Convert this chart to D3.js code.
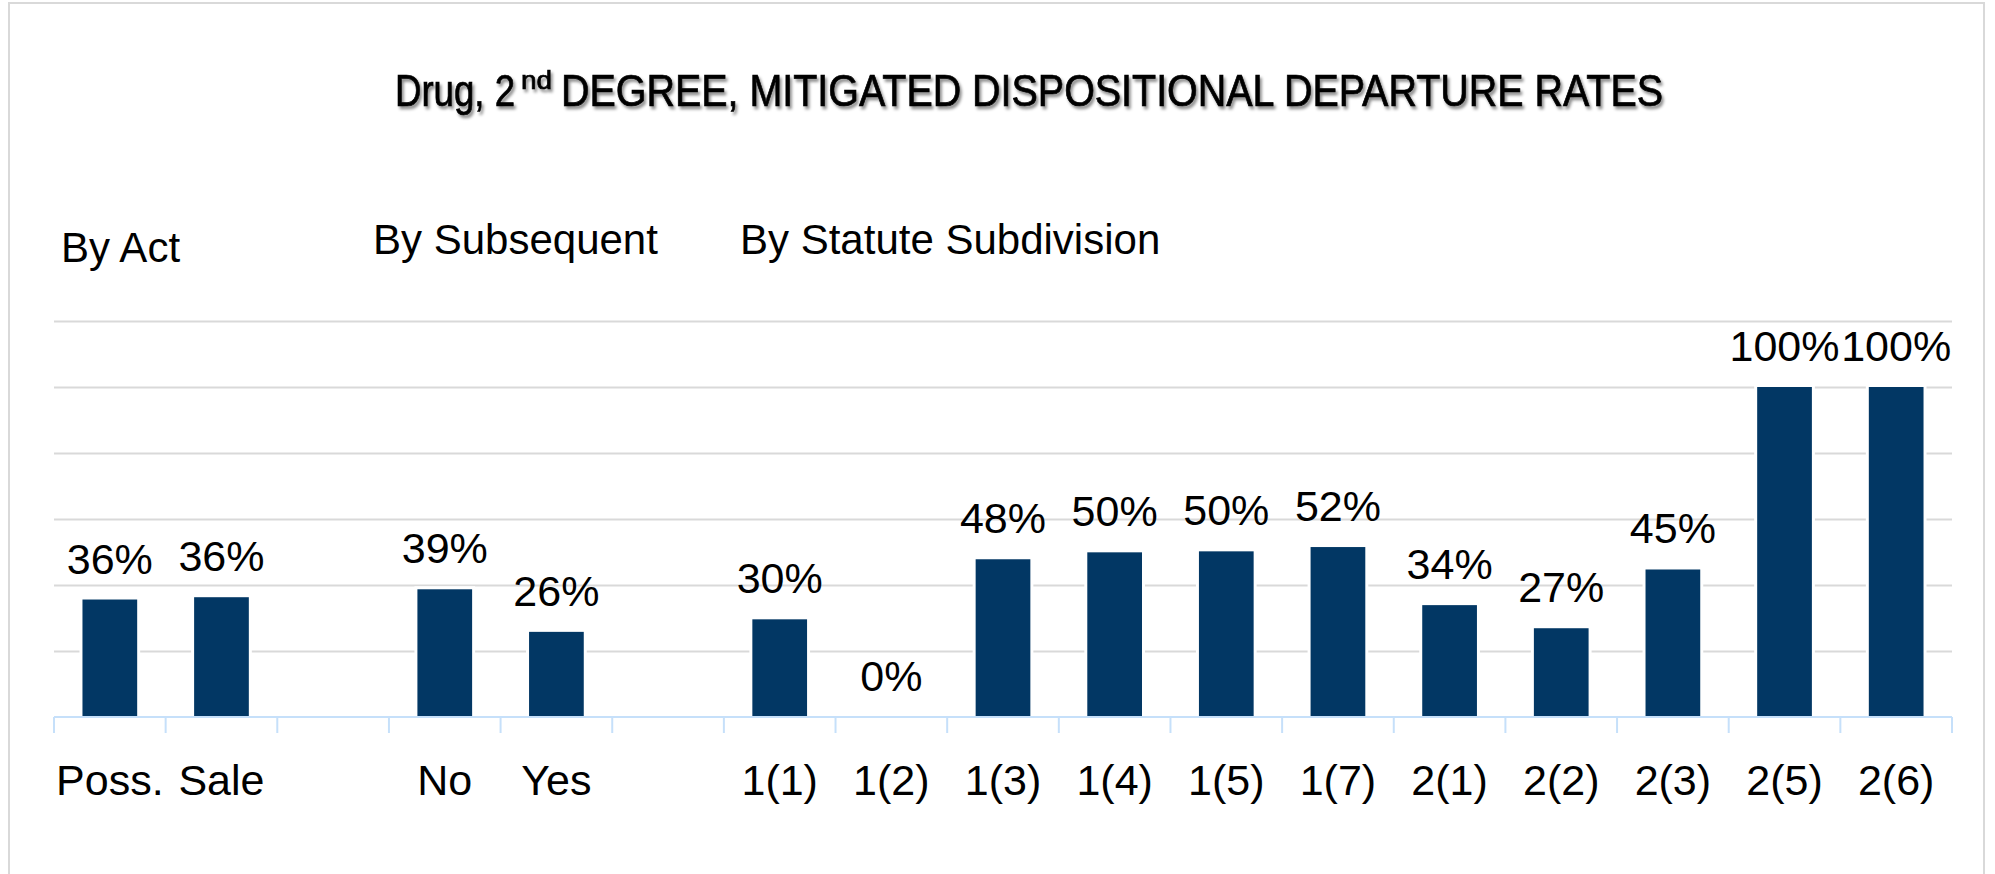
<!DOCTYPE html>
<html>
<head>
<meta charset="utf-8">
<script src="https://cdn.jsdelivr.net/npm/d3@7"></script>
<style>
  body { margin: 0; background: #fff; }
  svg { display: block; }
  text { font-family: "Liberation Sans", Arial, sans-serif; fill: #000; }
</style>
</head>
<body>
<div id="chart-area"></div>
<script>
// DATA
const categories = ['Poss.', 'Sale', '', 'No', 'Yes', '', '1(1)', '1(2)', '1(3)', '1(4)', '1(5)', '1(7)', '2(1)', '2(2)', '2(3)', '2(5)', '2(6)'];
const rates = [0.356, 0.363, null, 0.387, 0.258, null, 0.296, 0, 0.478, 0.499, 0.502, 0.515, 0.339, 0.269, 0.447, 1.0, 1.0];
const groupTitles = ['By Act', 'By Subsequent', 'By Statute Subdivision'];
const gridTicks = [0.2, 0.4, 0.6, 0.8, 1.0, 1.2];

const W = 1995, H = 874;
const margin = { top: 321, right: 43, bottom: 157, left: 54 };
const width = W - margin.left - margin.right;
const height = H - margin.top - margin.bottom;

const svg = d3.select('#chart-area').append('svg')
  .attr('width', W)
  .attr('height', H);

// drop shadow for the title
const defs = svg.append('defs');
defs.append('filter')
  .attr('id', 'shadow')
  .attr('x', '-5%').attr('y', '-30%').attr('width', '110%').attr('height', '160%')
  .append('feDropShadow')
  .attr('dx', 2).attr('dy', 3)
  .attr('stdDeviation', 1.6)
  .attr('flood-color', '#000')
  .attr('flood-opacity', 0.45);

// outer frame
svg.append('rect')
  .attr('x', 9).attr('y', 3)
  .attr('width', 1975).attr('height', 880)
  .attr('fill', 'none')
  .attr('stroke', '#d9d9d9')
  .attr('stroke-width', 2);

// title, in three parts (superscript "nd")
const title = svg.append('g')
  .attr('filter', 'url(#shadow)')
  .attr('stroke', '#000')
  .attr('stroke-width', 0.7);
title.append('text')
  .attr('x', 395).attr('y', 106)
  .attr('font-size', 44)
  .attr('textLength', 120).attr('lengthAdjust', 'spacingAndGlyphs')
  .text('Drug, 2');
title.append('text')
  .attr('x', 521).attr('y', 89)
  .attr('font-size', 25)
  .attr('textLength', 31).attr('lengthAdjust', 'spacingAndGlyphs')
  .text('nd');
title.append('text')
  .attr('x', 561).attr('y', 106)
  .attr('font-size', 44)
  .attr('textLength', 1102).attr('lengthAdjust', 'spacingAndGlyphs')
  .text('DEGREE, MITIGATED DISPOSITIONAL DEPARTURE RATES');

// group headers
const headerPos = [[61, 262], [373, 254], [740, 254]];
svg.selectAll('.group-title')
  .data(groupTitles)
  .enter().append('text')
  .attr('class', 'group-title')
  .attr('x', (d, i) => headerPos[i][0])
  .attr('y', (d, i) => headerPos[i][1])
  .attr('font-size', 42)
  .text(d => d);

const g = svg.append('g')
  .attr('transform', `translate(${margin.left}, ${margin.top})`);

// scales
const x = d3.scaleBand()
  .domain(d3.range(categories.length))
  .range([0, width])
  .paddingInner(0.51)
  .paddingOuter(0.255);

const y = d3.scaleLinear()
  .domain([0, 1.2])
  .range([height, 0]);

// gridlines
g.append('g')
  .attr('class', 'grid')
  .call(d3.axisLeft(y).tickValues(gridTicks).tickSize(-width).tickFormat(''))
  .call(a => a.select('.domain').remove())
  .selectAll('line')
  .attr('stroke', '#d9d9d9')
  .attr('stroke-width', 2);

const data = categories.map((c, i) => ({ i, label: c, value: rates[i] }))
  .filter(d => d.value !== null);

// white halo round the bars (breaks the gridlines like the original)
g.selectAll('.halo')
  .data(data)
  .enter().append('rect')
  .attr('class', 'halo')
  .attr('x', d => x(d.i) - 3)
  .attr('width', x.bandwidth() + 6)
  .attr('y', d => y(d.value) - 3)
  .attr('height', d => d.value > 0 ? height - y(d.value) + 3 : 0)
  .attr('fill', '#fff');

// bars
g.selectAll('.bar')
  .data(data)
  .enter().append('rect')
  .attr('class', 'bar')
  .attr('x', d => x(d.i))
  .attr('width', x.bandwidth())
  .attr('y', d => y(d.value))
  .attr('height', d => height - y(d.value))
  .attr('fill', '#023764');

// x axis: line + ticks at category boundaries
const step = x.step();
const xAxis = g.append('g')
  .attr('class', 'x-axis')
  .attr('transform', `translate(0, ${height})`);

xAxis.append('line')
  .attr('x1', 0).attr('x2', width)
  .attr('y1', 0).attr('y2', 0)
  .attr('stroke', '#c6e0fa')
  .attr('stroke-width', 2);

xAxis.selectAll('.tick-mark')
  .data(d3.range(categories.length + 1))
  .enter().append('line')
  .attr('class', 'tick-mark')
  .attr('x1', i => i * step).attr('x2', i => i * step)
  .attr('y1', 0).attr('y2', 16)
  .attr('stroke', '#c6e0fa')
  .attr('stroke-width', 2);

xAxis.selectAll('.cat-label')
  .data(categories)
  .enter().append('text')
  .attr('class', 'cat-label')
  .attr('x', (d, i) => x(i) + x.bandwidth() / 2)
  .attr('y', 78)
  .attr('text-anchor', 'middle')
  .attr('font-size', 43)
  .text(d => d);

// data labels
g.selectAll('.value-label')
  .data(data)
  .enter().append('text')
  .attr('class', 'value-label')
  .attr('x', d => x(d.i) + x.bandwidth() / 2)
  .attr('y', d => y(d.value) - 26)
  .attr('text-anchor', 'middle')
  .attr('font-size', 43)
  .text(d => d3.format('.0%')(d.value));
</script>
</body>
</html>
